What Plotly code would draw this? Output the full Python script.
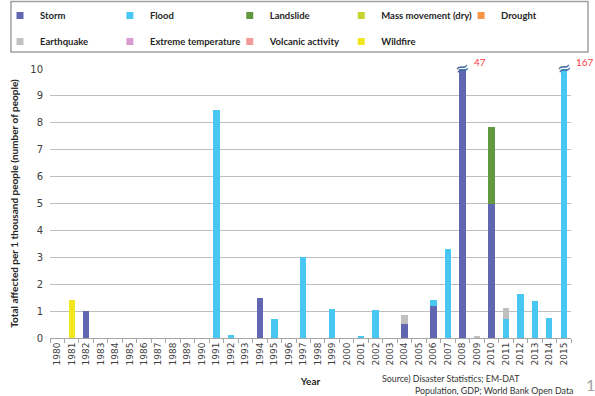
import plotly.graph_objects as go

years = [str(y) for y in range(1980, 2016)]

#            1980 ... 2015 (36 values)
storm = [0, 0, 1.0, 0, 0, 0, 0, 0, 0, 0,
         0, 0, 0, 0, 1.47, 0, 0, 0, 0, 0,
         0, 0, 0, 0, 0.52, 0, 1.2, 0, 47, 0,
         5.0, 0, 0, 0, 0, 0]
flood = [0, 0, 0, 0, 0, 0, 0, 0, 0, 0,
         0, 8.47, 0.1, 0, 0, 0.72, 0, 3.0, 0, 1.07,
         0, 0.07, 1.03, 0, 0, 0, 0.21, 3.31, 0, 0,
         0, 0.7, 1.63, 1.38, 0.75, 167]
landslide = [0] * 30 + [2.85] + [0] * 5
mass_movement = [0] * 36
drought = [0] * 36
earthquake = [0] * 24 + [0.33] + [0] * 4 + [0.04, 0, 0.41] + [0] * 4
extreme_temp = [0] * 36
volcanic = [0] * 36
wildfire = [0, 1.4] + [0] * 34

names = ["Storm", "Flood", "Landslide", "Mass movement (dry)", "Drought",
         "Earthquake", "Extreme temperature", "Volcanic activity", "Wildfire"]
values = [storm, flood, landslide, mass_movement, drought,
          earthquake, extreme_temp, volcanic, wildfire]
colors = ["#6166b0", "#47c7f2", "#62993e", "#c5d42e", "#f79646",
          "#c0c0c0", "#d99bd0", "#f4999a", "#f2e61e"]

# bars that exceed the axis (broken bars) and their true values
broken_years = ["2008", "2015"]
broken_labels = ["47", "167"]

# legend placement (paper coords): one small legend per entry, two rows
legend_x = [-0.096, 0.115, 0.345, 0.559, 0.789,
            -0.096, 0.115, 0.345, 0.559]
legend_y = [1.2528] * 5 + [1.156] * 4

W, H = 595, 396
fig = go.Figure()
for i, (name, vals, color) in enumerate(zip(names, values, colors)):
    lg = "legend" if i == 0 else f"legend{i + 1}"
    fig.add_trace(go.Bar(
        x=years, y=vals, name=name, showlegend=False,
        marker=dict(color=color, line=dict(width=0)),
    ))
    # legend-only proxy with a small square swatch
    fig.add_trace(go.Scatter(
        x=[None], y=[None], mode="markers", name=name, legend=lg,
        marker=dict(symbol="square", size=7, color=color),
    ))

legend_font = dict(family="Lato", size=9.5, color="#262626", weight="bold")
legends = {}
for i in range(len(names)):
    key = "legend" if i == 0 else f"legend{i + 1}"
    legends[key] = dict(orientation="h", x=legend_x[i], xanchor="left",
                        y=legend_y[i], yanchor="top", font=legend_font,
                        bgcolor="rgba(0,0,0,0)", itemclick=False, itemdoubleclick=False)

fig.update_layout(
    barmode="stack",
    bargap=0.56,
    width=W, height=H,
    margin=dict(l=50, r=24, t=69, b=58, autoexpand=False),
    paper_bgcolor="white",
    plot_bgcolor="white",
    showlegend=True,
    xaxis=dict(
        type="category", tickangle=-90, range=[-0.5, len(years) - 0.5],
        tickfont=dict(family="DejaVu Sans", size=9, color="#404040"),
        ticks="outside", tickson="boundaries", ticklen=4, tickcolor="#a6a6a6",
        showline=True, linecolor="#a6a6a6", linewidth=1,
        showgrid=False, automargin=False,
        title=dict(text="Year", font=dict(family="Lato", size=10, color="#262626", weight="bold"),
                   standoff=13),
    ),
    yaxis=dict(
        range=[0, 10], dtick=1,
        tickfont=dict(family="DejaVu Sans", size=10, color="#404040"),
        ticklabelstandoff=6,
        showgrid=True, gridcolor="#bfbfbf", gridwidth=1,
        showline=False, zeroline=False, ticks="", automargin=False,
        title=dict(text="Total affected per 1 thousand people (number of people)",
                   font=dict(family="Lato", size=10, color="#262626", weight="bold"),
                   standoff=9),
    ),
    font=dict(family="Lato"),
    **legends,
)

# legend frame
fig.add_shape(type="rect", xref="paper", yref="paper",
              x0=-0.0749, x1=1.0326, y0=1.0632, y1=1.251,
              line=dict(color="#a0a0a0", width=1.5), fillcolor="rgba(0,0,0,0)")

# axis-break markers and true values
for yr, lab in zip(broken_years, broken_labels):
    xi = years.index(yr)
    fig.add_annotation(x=xi, y=10, xref="x", yref="y", text="≈", showarrow=False,
                       font=dict(family="DejaVu Sans", size=17, color="#3f6aa5"),
                       textangle=-15, yshift=1)
    fig.add_annotation(x=xi, y=10, xref="x", yref="y", text=lab, showarrow=False,
                       font=dict(family="Lato", size=10, color="#ff4040"),
                       xanchor="left", xshift=10, yshift=7)

fig.add_annotation(xref="paper", yref="paper", x=0.6334, y=-0.1487, xanchor="left", yanchor="middle",
                   text="Source) Disaster Statistics; EM-DAT", showarrow=False,
                   font=dict(family="Lato", size=8.8, color="#333333"))
fig.add_annotation(xref="paper", yref="paper", x=1.0077, y=-0.197, xanchor="right", yanchor="middle",
                   text="Population, GDP; World Bank Open Data", showarrow=False,
                   font=dict(family="Lato", size=8.8, color="#333333"))
fig.add_annotation(xref="paper", yref="paper", x=1.025, y=-0.1747, xanchor="left", yanchor="middle",
                   text="1", showarrow=False,
                   font=dict(family="Lato", size=16, color="#a0a0a0"))

fig.write_html("out.html", config={"displayModeBar": False},
               post_script="document.body.style.margin='0px';")
